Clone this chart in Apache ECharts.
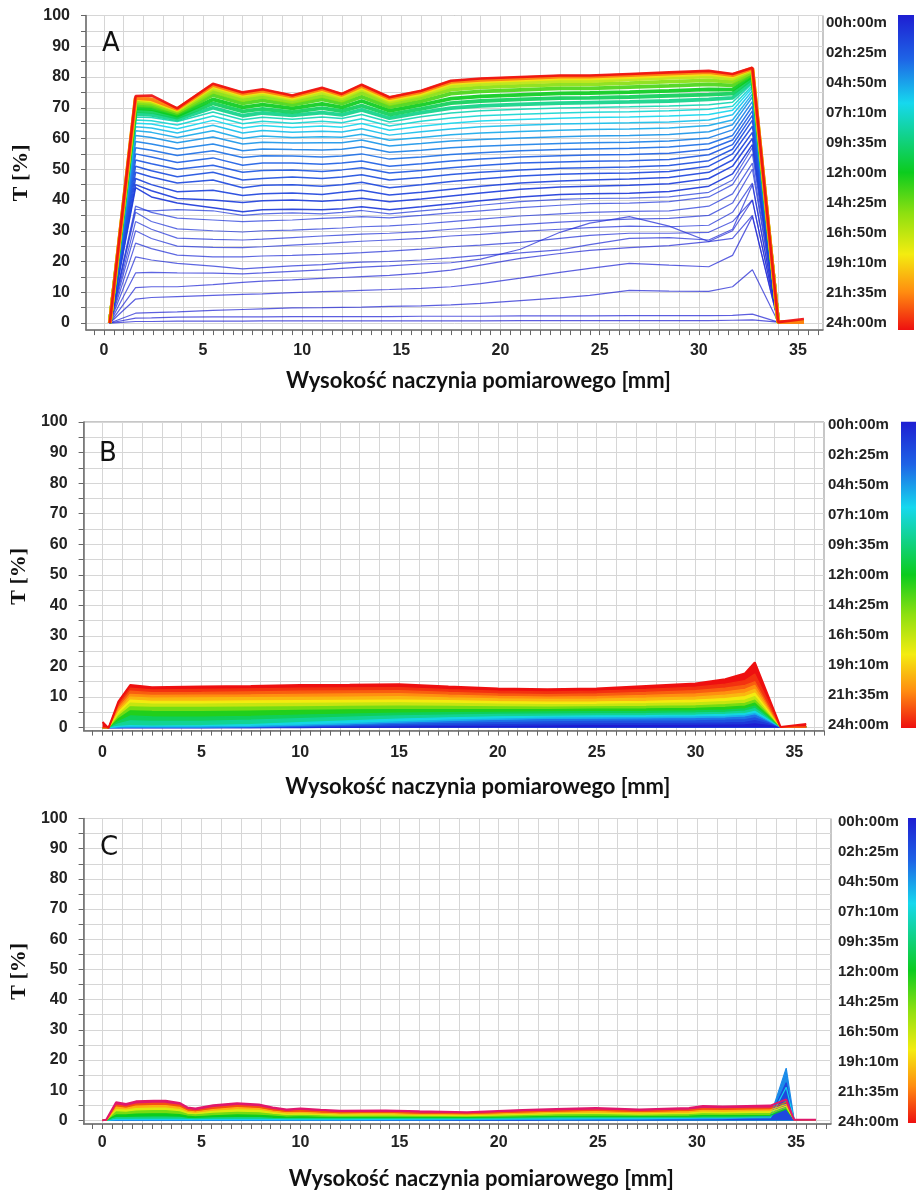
<!DOCTYPE html>
<html>
<head>
<meta charset="utf-8">
<script src="https://cdn.jsdelivr.net/npm/echarts@6/dist/echarts.min.js"></script>
<style>
  html, body { margin: 0; padding: 0; background: #fff; }
  #chart { width: 916px; height: 1191px; }
</style>
</head>
<body>
<div id="chart"></div>
<script>
// ---------- dane ----------
const timeLabels = ['00h:00m', '02h:25m', '04h:50m', '07h:10m', '09h:35m', '12h:00m',
  '14h:25m', '16h:50m', '19h:10m', '21h:35m', '24h:00m'];
const xTitle = 'Wysokość naczynia pomiarowego [mm]';
const yTitle = 'T [%]';

// panel A - wysokosc [mm]
const xA = [0.3, 1.6, 2.4, 3.7, 5.5, 7.0, 8.0, 9.5, 11.0, 12.0, 13.0, 14.4, 16.0, 17.5, 19.0,
  21.0, 23.0, 24.5, 26.5, 28.5, 30.5, 31.7, 32.7, 34.0, 35.3];
// czas pomiaru [h] dla kolejnych profili
const timesA = [0, 0.1, 0.2, 0.3, 0.4, 0.5, 0.6, 0.7, 0.8, 0.9, 1.0, 1.1, 1.25, 1.4, 1.6, 1.8,
  2.1, 2.4, 2.8, 3.2, 3.7, 4.2, 4.8, 5.4, 6.0, 6.7, 7.4, 8.2, 9.3, 10.5, 12, 13.5, 15, 16.5, 18.5, 21.5, 24];
const profilesA = [
  [0,0.5,0.5,0.6,0.6,0.6,0.7,0.7,0.7,0.7,0.7,0.7,0.7,0.7,0.7,0.8,0.8,0.8,0.8,0.8,0.8,0.9,1.0,0.3,0.3],
  [0,1.6,1.7,1.9,2.0,2.0,2.0,2.1,2.1,2.1,2.1,2.1,2.2,2.2,2.2,2.3,2.3,2.3,2.4,2.4,2.4,2.5,2.9,0.3,0.3],
  [0,3.2,3.4,3.6,4.1,4.4,4.6,4.9,5.0,5.1,5.2,5.4,5.6,5.9,6.4,7.3,8.2,9.0,10.6,10.4,10.3,11.8,17.3,0.3,0.3],
  [0,7.8,8.3,8.6,9.0,9.3,9.5,9.9,10.2,10.4,10.6,10.9,11.3,11.8,12.8,14.6,16.5,17.8,19.4,18.8,18.3,22.0,34.6,0.3,0.3],
  [0,11.5,11.8,11.8,12.5,13.2,13.6,14.0,14.5,14.8,15.1,15.5,16.2,17.2,18.8,21.0,22.6,23.6,24.5,25.2,26.5,30.0,40.0,0.3,0.3],
  [0,16.3,16.5,16.3,16.2,16.0,16.3,16.8,17.3,17.8,18.2,18.6,19.2,19.6,20.8,24.0,29.5,32.5,34.6,31.5,26.5,27.5,35.0,0.3,0.3],
  [0,21.5,20.5,19.4,18.5,17.6,18.0,18.6,19.0,19.5,19.8,20.0,20.5,21.2,22.0,22.8,23.8,25.5,27.5,27.8,27.0,30.5,45.0,0.3,0.3],
  [0,26.0,24.2,22.1,21.5,21.5,21.8,22.0,22.3,22.6,22.9,23.4,24.0,24.8,25.3,26.2,27.5,28.5,29.2,29.2,29.5,33.0,40.0,0.3,0.3],
  [0,30.0,27.5,25.0,24.6,24.5,24.8,25.3,25.8,26.2,26.6,27.0,27.5,28.3,28.8,29.8,30.5,31.0,31.5,31.3,31.8,36.0,45.5,0.3,0.3],
  [0,33.0,30.5,27.6,27.2,27.0,27.3,27.8,28.3,28.6,28.9,29.2,29.7,30.5,31.2,32.0,32.8,33.3,33.8,34.0,35.0,39.0,50.0,0.3,0.3],
  [0,36.0,33.0,30.6,30.0,29.6,30.0,30.2,30.6,30.9,31.3,31.6,32.2,33.0,33.8,34.8,35.5,36.0,36.3,36.5,38.0,42.0,52.0,0.3,0.3],
  [0,38.0,36.0,34.1,33.5,33.0,33.2,33.5,34.0,34.3,34.6,34.2,35.0,35.8,36.5,37.5,38.3,38.8,39.0,39.5,41.0,45.0,55.0,0.3,0.3],
  [0,37.0,36.5,36.9,36.5,35.0,35.5,35.8,35.5,36.0,36.6,35.5,36.5,37.3,38.3,39.5,40.2,40.5,40.6,41.0,42.5,46.5,57.0,0.3,0.3],
  [0,44.0,41.0,39.0,37.5,36.2,36.8,37.0,36.8,37.2,37.8,36.8,37.8,38.8,39.8,41.0,41.8,42.0,42.2,42.8,44.5,48.5,58.0,0.3,0.3],
  [0,45.0,43.0,40.5,40.0,39.2,39.8,40.0,39.6,40.0,40.6,39.4,40.3,41.3,42.3,43.5,44.2,44.5,44.8,45.3,47.0,51.0,60.0,0.3,0.3],
  [0,47.0,45.0,42.7,43.2,41.5,42.0,42.3,41.8,42.5,43.2,41.6,42.5,43.5,44.5,45.5,46.2,46.5,46.8,47.3,49.0,53.0,62.0,0.3,0.3],
  [0,49.0,47.5,45.5,46.5,44.0,44.8,45.0,44.5,45.0,45.8,44.0,45.0,46.0,46.8,47.8,48.4,48.6,48.8,49.3,51.0,55.0,64.0,0.3,0.3],
  [0,51.0,49.5,47.6,49.0,46.5,47.0,47.5,47.0,47.5,48.2,46.5,47.3,48.3,49.0,49.8,50.3,50.5,50.7,51.2,52.8,56.5,66.0,0.3,0.3],
  [0,53.0,51.8,50.0,51.3,49.0,49.6,49.8,49.3,49.8,50.5,48.8,49.6,50.5,51.2,52.0,52.4,52.6,52.8,53.2,54.7,58.0,67.5,0.3,0.3],
  [0,55.0,54.0,52.2,53.7,51.3,52.0,52.0,51.6,52.0,52.7,51.0,51.8,52.7,53.3,54.0,54.4,54.6,54.8,55.2,56.5,59.5,69.0,0.3,0.3],
  [0,57.0,56.2,54.5,56.0,53.8,54.4,54.3,54.0,54.3,55.0,53.3,54.0,54.8,55.4,56.0,56.4,56.6,56.8,57.2,58.3,61.0,70.5,0.3,0.3],
  [0,59.0,58.2,56.6,58.2,56.0,56.6,56.4,56.3,56.5,57.3,55.5,56.2,57.0,57.5,58.0,58.4,58.6,58.8,59.2,60.2,62.8,72.0,0.3,0.3],
  [0,61.0,60.3,58.6,60.5,58.2,58.8,58.5,58.6,58.6,59.5,57.6,58.4,59.2,59.7,60.2,60.6,60.8,61.0,61.3,62.2,64.5,73.5,0.3,0.3],
  [0,62.5,62.0,60.3,62.5,60.0,60.8,60.3,60.6,60.4,61.4,59.4,60.3,61.2,61.8,62.3,62.7,62.9,63.1,63.4,64.2,66.0,74.5,0.3,0.3],
  [0,63.8,63.4,61.8,64.3,61.8,62.6,62.0,62.4,62.1,63.2,61.1,62.2,63.1,63.8,64.3,64.7,64.9,65.1,65.4,66.0,67.7,75.5,0.3,0.3],
  [0,65.0,64.7,63.2,65.9,63.4,64.2,63.6,64.1,63.7,64.9,62.7,64.0,65.0,65.7,66.2,66.6,66.8,67.0,67.3,67.8,69.2,76.5,0.3,0.3],
  [0,66.0,65.8,64.4,67.3,64.8,65.6,65.0,65.6,65.1,66.4,64.1,65.6,66.7,67.4,67.9,68.3,68.5,68.7,69.0,69.5,70.5,77.2,0.3,0.3],
  [0,67.0,66.8,65.5,68.6,66.1,66.9,66.3,67.0,66.5,67.8,65.4,67.1,68.3,69.0,69.5,69.9,70.1,70.3,70.6,71.0,71.8,78.0,0.3,0.3],
  [0,68.0,67.7,66.2,70.0,67.4,68.3,67.5,68.4,67.7,69.3,66.6,68.4,69.9,70.6,71.1,71.5,71.7,71.9,72.2,72.7,73.2,78.8,0.3,0.3],
  [0,69.0,68.7,66.8,71.4,68.8,69.6,68.6,69.9,68.9,70.7,67.8,69.6,71.5,72.2,72.7,73.1,73.2,73.5,73.9,74.3,74.6,79.5,0.3,0.3],
  [0,69.9,69.6,67.4,72.7,70.1,71.0,69.8,71.3,70.1,72.2,69.0,70.9,73.0,73.7,74.2,74.7,74.8,75.1,75.5,76.0,75.9,80.3,0.3,0.3],
  [0,70.9,70.5,68.1,74.1,71.4,72.4,70.9,72.7,71.3,73.6,70.2,72.1,74.6,75.3,75.8,76.3,76.3,76.7,77.1,77.6,77.3,81.0,0.3,0.3],
  [0,71.7,71.3,68.6,75.2,72.5,73.5,71.8,73.8,72.3,74.8,71.2,73.2,75.9,76.6,77.1,77.5,77.6,78.0,78.5,78.9,78.4,81.6,0.3,0.3],
  [0,72.4,72.0,69.1,76.2,73.5,74.5,72.7,74.9,73.1,75.9,72.0,74.1,77.0,77.7,78.2,78.7,78.7,79.2,79.7,80.1,79.4,82.2,0.3,0.3],
  [0,72.9,72.4,69.4,77.0,74.2,75.2,73.3,75.7,73.8,76.6,72.7,74.7,77.9,78.6,79.1,79.6,79.6,80.0,80.5,81.0,80.2,82.6,0.3,0.3],
  [0,73.2,72.8,69.6,77.4,74.6,75.6,73.7,76.1,74.2,77.1,73.1,75.2,78.4,79.1,79.6,80.1,80.1,80.6,81.1,81.6,80.6,82.8,0.3,0.3],
  [0,73.8,74.0,69.8,77.8,75.0,76.0,74.0,76.5,74.5,77.5,73.4,75.5,78.8,79.5,80.0,80.5,80.5,81.0,81.5,82.0,81.0,83.0,0.3,1.3]
];

// panel B
const xB = [0.0, 0.3, 0.8, 1.4, 2.5, 5, 7.5, 10, 12.5, 15, 17.5, 20, 22.5, 25, 27.5, 30, 31.5, 32.5, 33.0, 34.3, 35.6];
const timesB = [0, 1.2, 2.4, 3.8, 5.5, 7, 9, 10.5, 12.5, 14.5, 16.8, 18.3, 19.8, 21, 22.2, 23.2, 24];
const profilesB = [
  [0,0,0,0,0,0,0,0,0.1,0.2,0.3,0.4,0.5,0.6,0.6,0.7,0.8,0.9,1.2,0.2,0.2],
  [0,0,0,0,0,0,0,0.1,0.3,0.5,0.7,0.9,1.1,1.2,1.3,1.4,1.5,1.7,2.3,0.2,0.2],
  [0,0,0,0,0,0,0.1,0.3,0.6,1.0,1.3,1.6,1.9,2.0,2.1,2.2,2.4,2.6,3.2,0.2,0.2],
  [0,0,0,0.1,0.1,0.1,0.2,0.5,0.9,1.4,1.9,2.3,2.6,2.7,2.8,2.9,3.1,3.4,4.1,0.2,0.2],
  [0,0,0.2,0.3,0.2,0.2,0.4,0.8,1.3,1.9,2.4,2.8,3.1,3.2,3.3,3.5,3.7,4.0,4.6,0.2,0.2],
  [0,0,0.4,0.6,0.5,0.6,1.0,1.6,2.2,2.8,3.2,3.5,3.7,3.8,3.9,4.1,4.3,4.6,5.3,0.2,0.2],
  [0,0,1.2,2.2,2.0,2.0,2.4,2.9,3.4,3.8,4.1,4.3,4.4,4.5,4.6,4.8,5.0,5.4,6.2,0.2,0.2],
  [0,0,2.0,3.8,3.5,3.4,3.7,4.1,4.4,4.7,4.9,5.0,5.1,5.2,5.3,5.5,5.7,6.1,7.0,0.2,0.2],
  [0,0,2.9,5.5,5.3,5.2,5.4,5.6,5.8,5.9,5.9,5.9,5.9,6.0,6.1,6.3,6.6,7.0,8.0,0.2,0.2],
  [0,0,3.7,6.8,6.6,6.6,6.7,6.8,6.9,7.0,6.9,6.8,6.7,6.8,6.9,7.1,7.5,7.9,9.0,0.2,0.2],
  [0,0,4.4,8.0,7.7,7.7,7.8,7.9,8.0,8.1,7.9,7.7,7.5,7.6,7.8,8.1,8.5,9.0,10.1,0.2,0.2],
  [0,0,5.0,9.0,8.6,8.6,8.7,8.8,8.9,9.0,8.8,8.5,8.3,8.4,8.6,9.0,9.5,10.1,11.3,0.2,0.2],
  [0,0,5.7,10.0,9.6,9.7,9.8,9.9,10.0,10.1,9.7,9.4,9.2,9.3,9.6,10.0,10.6,11.3,12.5,0.2,0.2],
  [0,0,6.4,10.9,10.5,10.6,10.7,10.9,11.0,11.1,10.6,10.2,10.0,10.1,10.5,11.0,11.7,12.5,13.8,0.2,0.2],
  [0,0,7.1,11.9,11.4,11.5,11.7,11.9,12.0,12.1,11.5,11.0,10.8,11.0,11.5,12.1,12.9,13.8,15.0,0.2,0.2],
  [0,0,7.8,12.9,12.3,12.5,12.7,12.9,13.0,13.1,12.4,11.9,11.7,11.9,12.5,13.2,14.2,15.4,17.5,0.2,0.2],
  [1.8,-0.2,8.5,13.9,13.2,13.4,13.6,13.9,14.0,14.2,13.4,12.8,12.5,12.8,13.6,14.4,15.8,17.7,21.3,0.2,1.2]
];

// panel C
const xC = [0.0, 0.2, 0.7, 1.2, 1.7, 2.6, 3.2, 3.9, 4.3, 4.7, 5.6, 6.8, 7.9, 8.6, 9.3, 10.0, 11.0, 12.0,
  14.3, 16.0, 18.4, 21.2, 22.9, 24.9, 27.1, 29.6, 30.3, 31.3, 33.7, 34.5, 34.9, 36.0];
const timesC = [2, 4.5, 6.5, 9.5, 12, 14.5, 17.5, 20, 22.5, 24];
const profilesC = [
  [0,0,0,0,0,0,0,0,0,0,0,0,0,0,0,0,0,0,0,0,0.1,0.1,0.2,0.2,0.2,0.3,0.3,0.4,1.0,12.5,0.2,0.2],
  [0,0,0,0,0,0,0,0,0,0,0,0,0,0,0,0,0,0,0.1,0.1,0.2,0.3,0.3,0.4,0.4,0.5,0.5,0.6,1.3,17.3,0.2,0.2],
  [0,0,0.3,0.3,0.3,0.3,0.3,0.3,0.3,0.3,0.3,0.3,0.3,0.3,0.3,0.3,0.3,0.3,0.3,0.4,0.4,0.5,0.5,0.6,0.6,0.7,0.8,0.8,0.9,11.0,0.2,0.2],
  [0,0,0.9,0.9,1.0,1.1,1.1,1.0,0.7,0.6,0.8,0.9,0.9,0.7,0.6,0.6,0.6,0.6,0.7,0.7,0.7,0.8,0.9,1.0,0.9,1.0,1.1,1.1,1.2,6.5,0.2,0.2],
  [0,0,1.8,1.8,2.1,2.2,2.2,1.9,1.4,1.2,1.5,1.8,1.7,1.4,1.1,1.2,1.1,1.0,1.1,1.0,1.0,1.2,1.3,1.4,1.3,1.4,1.6,1.6,1.7,3.8,0.2,0.2],
  [0,0,2.8,2.7,3.1,3.2,3.2,2.8,2.0,1.8,2.3,2.7,2.5,2.0,1.6,1.7,1.5,1.4,1.5,1.4,1.3,1.6,1.8,1.9,1.7,1.9,2.2,2.1,2.3,4.2,0.2,0.2],
  [0,0,3.6,3.4,3.9,4.1,4.1,3.6,2.6,2.3,3.0,3.5,3.3,2.6,2.1,2.2,2.0,1.8,1.9,1.7,1.6,2.0,2.3,2.4,2.2,2.4,2.8,2.7,2.9,4.7,0.2,0.2],
  [0,0,4.4,4.0,4.7,4.9,4.9,4.3,3.1,2.8,3.6,4.2,3.9,3.1,2.6,2.7,2.4,2.2,2.3,2.0,1.9,2.4,2.7,2.9,2.6,2.9,3.3,3.2,3.5,5.3,0.2,0.2],
  [0,0,5.1,4.6,5.4,5.6,5.6,5.0,3.6,3.2,4.2,4.9,4.5,3.6,3.0,3.2,2.9,2.6,2.7,2.4,2.2,2.8,3.1,3.4,3.0,3.4,3.9,3.8,4.1,6.0,0.2,0.2],
  [0,0.2,6.0,5.4,6.3,6.5,6.5,5.8,4.3,3.9,5.0,5.7,5.3,4.3,3.6,3.9,3.5,3.2,3.3,3.0,2.7,3.4,3.8,4.1,3.6,4.1,4.8,4.6,4.9,6.9,0.2,0.2]
];

// ---------- wyglad ----------
const colorStops = [[0, '#1e1ed2'], [0.14, '#1e64e6'], [0.28, '#16d8ee'], [0.5, '#0ccc1e'],
  [0.63, '#8ee010'], [0.76, '#f4ec10'], [0.88, '#ff8c10'], [1, '#ee1010']];
const lastColorC = '#e0186c';
const LABEL_FONT = '"Liberation Sans", Arial, sans-serif';

const yTickVals = [], yLabelVals = [], xGridVals = [], xHalfVals = [];
for (let v = 0; v <= 100; v += 5) yTickVals.push(v);
for (let v = 0; v <= 100; v += 10) yLabelVals.push(v);
for (let v = 0; v <= 36; v++) xGridVals.push(v);
for (let v = -0.5; v <= 36.5; v += 0.5) xHalfVals.push(v);
const xLabelVals = [0, 5, 10, 15, 20, 25, 30, 35];
const barLabelVals = [0, 1, 2, 3, 4, 5, 6, 7, 8, 9, 10];

function hexRgb(h) {
  return [parseInt(h.slice(1, 3), 16), parseInt(h.slice(3, 5), 16), parseInt(h.slice(5, 7), 16)];
}
function timeColor(hours) {
  const f = Math.max(0, Math.min(1, hours / 24));
  for (let i = 1; i < colorStops.length; i++) {
    if (f <= colorStops[i][0]) {
      const f0 = colorStops[i - 1][0], f1 = colorStops[i][0];
      const a = hexRgb(colorStops[i - 1][1]), b = hexRgb(colorStops[i][1]);
      const k = (f - f0) / (f1 - f0);
      return 'rgb(' + a.map((v, j) => Math.round(v + (b[j] - v) * k)).join(',') + ')';
    }
  }
  return colorStops[colorStops.length - 1][1];
}
function pairs(xs, ys) { return xs.map((x, i) => [x, ys[i]]); }

// polozenie paneli na stronie
const panels = [
  { letter: 'A', grid: { left: 86, top: 15.5, width: 737, height: 314.6 }, xMin: -0.9, xMax: 36.26, yMin: -2.3,
    xLabelMargin: 12, xNameGap: 40, yNameGap: 53, letterPos: { left: 102, top: 31 },
    bar: { left: 898, top: 15, width: 16, height: 315 }, barRange: [-0.267, 10.233], barMargin: 72 },
  { letter: 'B', grid: { left: 80, top: 422, width: 744, height: 308.6 }, xMin: -0.96, xMax: 36.5, yMin: -1,
    xLabelMargin: 14, xNameGap: 45, yNameGap: 47, letterPos: { left: 99, top: 441 },
    bar: { left: 901, top: 421.7, width: 15, height: 306.3 }, barRange: [-0.11, 10.1], barMargin: 73 },
  { letter: 'C', grid: { left: 83, top: 818.5, width: 748, height: 307.6 }, xMin: -0.94, xMax: 36.76, yMin: -1.2,
    xLabelMargin: 11, xNameGap: 44, yNameGap: 50, letterPos: { left: 100, top: 835 },
    bar: { left: 908, top: 818, width: 8, height: 305 }, barRange: [-0.123, 10.043], barMargin: 70 }
];

const grids = [], xAxes = [], yAxes = [], titles = [], series = [];
const plotX = [], plotY = [];

panels.forEach((p, k) => {
  grids.push(Object.assign({ show: true, borderColor: '#8f8f8f', borderWidth: 1, containLabel: false }, p.grid));
  titles.push({ text: p.letter, left: p.letterPos.left, top: p.letterPos.top, padding: 0,
    textStyle: { fontFamily: '"DejaVu Sans", sans-serif', fontWeight: 'normal', fontSize: 26, color: '#111' } });
  plotX.push(xAxes.length);
  xAxes.push({
    type: 'value', gridIndex: k, position: 'bottom', min: p.xMin, max: p.xMax,
    axisLine: { show: true, onZero: false, lineStyle: { color: '#707070', width: 1.5 } },
    axisTick: { show: false, customValues: xGridVals },
    axisLabel: { customValues: xLabelVals, margin: p.xLabelMargin, fontFamily: LABEL_FONT,
      fontWeight: 'bold', fontSize: 16, color: '#222' },
    splitLine: { show: true, lineStyle: { color: '#d6d6d6', width: 1 } },
    name: xTitle, nameLocation: 'middle', nameGap: p.xNameGap,
    nameTextStyle: { fontFamily: 'Lato, "Open Sans", sans-serif', fontWeight: 'bold', fontSize: 22,
      color: '#111', padding: [0, 0, 0, 48] }
  });
  xAxes.push({
    type: 'value', gridIndex: k, position: 'bottom', min: p.xMin, max: p.xMax,
    axisLine: { show: false, onZero: false },
    axisTick: { show: true, customValues: xHalfVals, length: 5, lineStyle: { color: '#666', width: 1 } },
    axisLabel: { show: false }, splitLine: { show: false }
  });
  plotY.push(yAxes.length);
  yAxes.push({
    type: 'value', gridIndex: k, position: 'left', min: p.yMin, max: 100,
    axisLine: { show: true, onZero: false, lineStyle: { color: '#707070', width: 1.5 } },
    axisTick: { show: true, customValues: yTickVals, length: 5, lineStyle: { color: '#666' } },
    axisLabel: { customValues: yLabelVals, margin: 16, fontFamily: LABEL_FONT, fontWeight: 'bold',
      fontSize: 16, color: '#222' },
    splitLine: { show: true, lineStyle: { color: '#d6d6d6', width: 1 } },
    name: yTitle, nameLocation: 'middle', nameGap: p.yNameGap, nameRotate: 90,
    nameTextStyle: { fontFamily: '"Liberation Serif", "Times New Roman", serif', fontWeight: 'bold',
      fontSize: 22, color: '#111' }
  });
});

// skala barw (czas)
const gradient = new echarts.graphic.LinearGradient(0, 0, 0, 1,
  colorStops.map(s => ({ offset: s[0], color: s[1] })));
panels.forEach((p, k) => {
  const gi = grids.length;
  grids.push(Object.assign({ show: false }, p.bar));
  const xi = xAxes.length;
  xAxes.push({ type: 'category', gridIndex: gi, data: ['t'], show: false });
  const yi = yAxes.length;
  yAxes.push({ type: 'value', gridIndex: gi, min: 0, max: 1, show: false, position: 'left' });
  yAxes.push({
    type: 'value', gridIndex: gi, position: 'left', inverse: true, min: p.barRange[0], max: p.barRange[1],
    axisLine: { show: false }, axisTick: { show: false }, splitLine: { show: false },
    axisLabel: { customValues: barLabelVals, formatter: v => timeLabels[Math.round(v)], align: 'left',
      margin: p.barMargin, fontFamily: LABEL_FONT, fontWeight: 'bold', fontSize: 15, color: '#222' }
  });
  series.push({ type: 'bar', xAxisIndex: xi, yAxisIndex: yi, data: [1], barWidth: '100%', silent: true,
    itemStyle: { color: gradient } });
});

// A: same linie, kolejnosc czasowa (najpozniejsze na wierzchu)
profilesA.forEach((ys, i) => {
  const t = timesA[i];
  const w = t >= 24 ? 2.6 : (t >= 9 ? 3.8 : (t >= 1.3 ? 1.5 : 1.2));
  series.push({
    type: 'line', xAxisIndex: plotX[0], yAxisIndex: plotY[0], data: pairs(xA, ys),
    showSymbol: false, silent: true, z: 3,
    lineStyle: { color: timeColor(t), width: w, opacity: t < 1.3 ? 0.72 : 0.92 }
  });
});

// B i C: pola w odwrotnej kolejnosci + linie na wierzchu
function bandPanel(pi, xs, times, profiles, colorOf) {
  for (let i = profiles.length - 1; i >= 0; i--) {
    series.push({
      type: 'line', xAxisIndex: plotX[pi], yAxisIndex: plotY[pi], data: pairs(xs, profiles[i]),
      showSymbol: false, silent: true, z: 2,
      lineStyle: { width: 0 }, areaStyle: { color: colorOf(times[i]), opacity: 1 }
    });
  }
  profiles.forEach((ys, i) => {
    series.push({
      type: 'line', xAxisIndex: plotX[pi], yAxisIndex: plotY[pi], data: pairs(xs, ys),
      showSymbol: false, silent: true, z: 3,
      lineStyle: { color: colorOf(times[i]), width: times[i] >= 24 ? 2 : 1.2 }
    });
  });
}
bandPanel(1, xB, timesB, profilesB, timeColor);
bandPanel(2, xC, timesC, profilesC, t => (t >= 24 ? lastColorC : timeColor(t)));

const chart = echarts.init(document.getElementById('chart'));
chart.setOption({
  animation: false,
  backgroundColor: '#fff',
  title: titles,
  grid: grids,
  xAxis: xAxes,
  yAxis: yAxes,
  series: series
});
</script>
</body>
</html>
